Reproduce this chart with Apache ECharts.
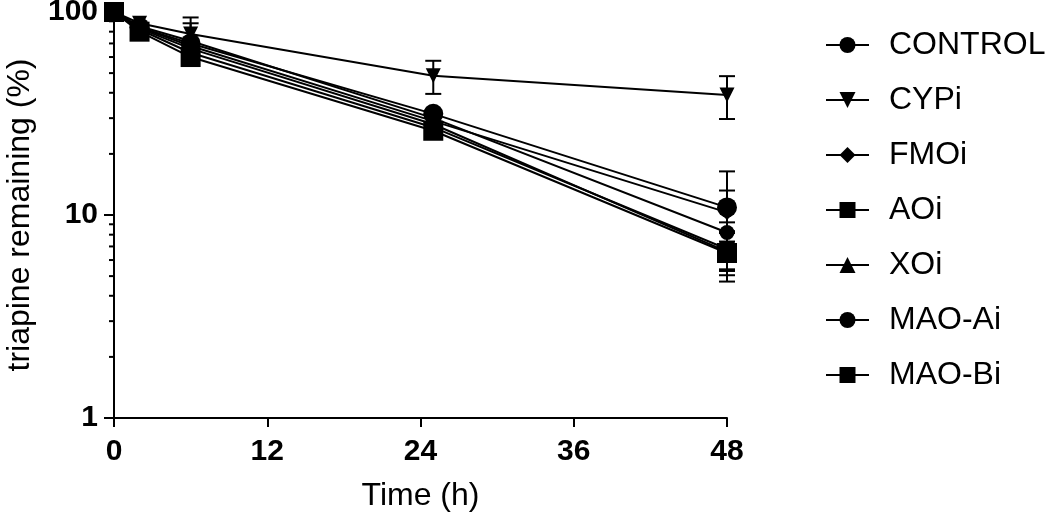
<!DOCTYPE html>
<html><head><meta charset="utf-8">
<script src="https://cdn.jsdelivr.net/npm/echarts@6/dist/echarts.min.js"></script>
<style>html,body{margin:0;padding:0;background:#fff}#c{width:1050px;height:517px}</style>
</head><body><div id="c"></div>
<script>
const times = [0, 2, 6, 25, 48];
const seriesNames = ['CONTROL', 'CYPi', 'FMOi', 'AOi', 'XOi', 'MAO-Ai', 'MAO-Bi'];
const control = [100, 85, 72, 30, 8.2];
const cypi    = [100, 88, 78, 48.5, 39];
const fmoi    = [100, 84, 68, 29, 10.3];
const aoi     = [100, 82, 63, 27, 6.8];
const xoi     = [100, 83, 66, 28, 6.6];
const maoA    = [100, 84, 70, 31.5, 10.9];
const maoB    = [100, 80, 60, 26, 6.5];
// standard deviations (linear), 0 = none drawn
const controlSd = [0, 0, 16, 0, 1.0];
const cypiSd    = [0, 0, 16, 9, 9.3];
const fmoiSd    = [0, 0, 0, 0, 2.9];
const aoiSd     = [0, 0, 0, 0, 1.5];
const xoiSd     = [0, 0, 0, 0, 1.55];
const maoASd    = [0, 0, 0, 0, 5.5];
const maoBSd    = [0, 0, 0, 0, 1.8];
const xTicks = [0, 12, 24, 36, 48];
const yMinorTicks = [2, 3, 4, 5, 6, 7, 8, 9, 20, 30, 40, 50, 60, 70, 80, 90];

const values = [control, cypi, fmoi, aoi, xoi, maoA, maoB];
const sds = [controlSd, cypiSd, fmoiSd, aoiSd, xoiSd, maoASd, maoBSd];
const symbols = ['circle', 'path://M0,0 L10,0 L5,10 Z', 'diamond', 'rect', 'triangle', 'circle', 'rect'];
const sizes = [15, 15, 15, 15, 15, 20, 20];

const textFont = "'Liberation Sans', Arial, sans-serif";

const series = [];
values.forEach((vals, i) => {
  series.push({
    name: seriesNames[i], type: 'line',
    data: times.map((t, j) => [t, vals[j]]),
    symbol: symbols[i], symbolSize: sizes[i],
    showAllSymbol: true,
    lineStyle: { color: '#000', width: 2 },
    itemStyle: { color: '#000' },
    z: 3, clip: false
  });
});
const errData = [];
values.forEach((vals, i) => {
  vals.forEach((v, j) => {
    if (sds[i][j] > 0) errData.push([times[j], v - sds[i][j], v + sds[i][j]]);
  });
});
series.push({
  type: 'custom', name: 'err', z: 2, clip: false, silent: true,
  data: errData,
  encode: { x: 0, y: [1, 2] },
  renderItem: function (params, api) {
    const x = api.value(0);
    const lo = api.coord([x, api.value(1)]);
    const hi = api.coord([x, api.value(2)]);
    const w = 8;
    const st = { stroke: '#000', lineWidth: 2 };
    return { type: 'group', children: [
      { type: 'line', shape: { x1: lo[0], y1: lo[1], x2: hi[0], y2: hi[1] }, style: st },
      { type: 'line', shape: { x1: lo[0] - w, y1: lo[1], x2: lo[0] + w, y2: lo[1] }, style: st },
      { type: 'line', shape: { x1: hi[0] - w, y1: hi[1], x2: hi[0] + w, y2: hi[1] }, style: st }
    ]};
  }
});
series.push({
  type: 'custom', name: 'minor', z: 1, clip: false, silent: true,
  data: yMinorTicks.map(v => [0, v]),
  renderItem: function (params, api) {
    const p = api.coord([0, api.value(1)]);
    return { type: 'line', shape: { x1: p[0] - 5, y1: p[1], x2: p[0], y2: p[1] }, style: { stroke: '#000', lineWidth: 2 } };
  }
});

const chart = echarts.init(document.getElementById('c'));
chart.setOption({
  animation: false,
  backgroundColor: '#fff',
  grid: { left: 114, right: 323, top: 12, bottom: 99, containLabel: false, outerBoundsMode: 'none' },
  legend: {
    data: seriesNames, orient: 'vertical', left: 820, top: 24,
    itemWidth: 43, itemHeight: 20, itemGap: 23,
    textStyle: { fontSize: 32, color: '#000', fontFamily: textFont, padding: [0, 0, 0, 15] }
  },
  xAxis: {
    type: 'value', min: 0, max: 48, interval: 12,
    name: 'Time (h)', nameLocation: 'middle', nameGap: 62,
    nameTextStyle: { fontSize: 32, color: '#000', fontFamily: textFont },
    axisLine: { lineStyle: { color: '#000', width: 2 } },
    axisTick: { show: true, inside: false, length: 9, lineStyle: { color: '#000', width: 2 } },
    axisLabel: { fontSize: 30, fontWeight: 'bold', color: '#000', fontFamily: textFont, margin: 19,
      customValues: xTicks },
    splitLine: { show: false }
  },
  yAxis: {
    type: 'log', logBase: 10, min: 1, max: 100,
    name: 'triapine remaining (%)', nameLocation: 'middle', nameGap: 78, nameRotate: 90,
    nameTextStyle: { fontSize: 32, color: '#000', fontFamily: textFont },
    axisLine: { show: true, lineStyle: { color: '#000', width: 2 } },
    axisTick: { show: true, inside: false, length: 10, lineStyle: { color: '#000', width: 2 } },
    axisLabel: { fontSize: 30, fontWeight: 'bold', color: '#000', fontFamily: textFont, margin: 16 },
    splitLine: { show: false }
  },
  series: series
});
</script></body></html>
